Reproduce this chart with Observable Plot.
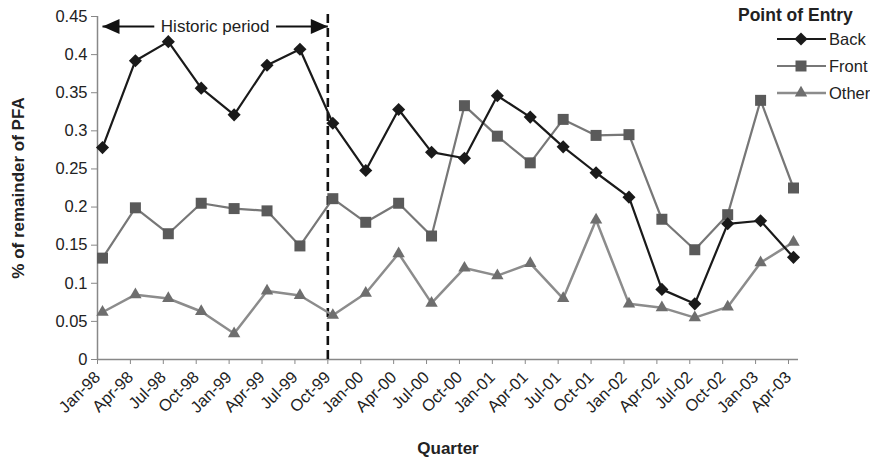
<!DOCTYPE html>
<html><head><meta charset="utf-8">
<script src="https://cdn.jsdelivr.net/npm/d3@7"></script>
<script src="https://cdn.jsdelivr.net/npm/@observablehq/plot@0.6"></script>
<style>
body{margin:0;background:#fff;font-family:"Liberation Sans",Arial,sans-serif;}
#wrap{position:relative;width:870px;height:459px;}
</style></head><body>
<div id="wrap"></div>
<script>
const quarters = ["Jan-98","Apr-98","Jul-98","Oct-98","Jan-99","Apr-99","Jul-99","Oct-99","Jan-00","Apr-00","Jul-00","Oct-00","Jan-01","Apr-01","Jul-01","Oct-01","Jan-02","Apr-02","Jul-02","Oct-02","Jan-03","Apr-03"];
const back  = [0.278,0.392,0.417,0.356,0.321,0.386,0.407,0.310,0.248,0.328,0.272,0.264,0.346,0.318,0.279,0.245,0.213,0.092,0.073,0.178,0.182,0.134];
const front = [0.133,0.199,0.165,0.205,0.198,0.195,0.149,0.211,0.180,0.205,0.162,0.333,0.293,0.258,0.315,0.294,0.295,0.184,0.144,0.190,0.340,0.225];
const other = [0.062,0.085,0.080,0.063,0.034,0.090,0.084,0.058,0.087,0.139,0.074,0.120,0.110,0.126,0.080,0.183,0.073,0.068,0.055,0.069,0.127,0.154];
const yTicks = [0,0.05,0.1,0.15,0.2,0.25,0.3,0.35,0.4,0.45];
const legendTitle = "Point of Entry";
const historicLabel = "Historic period";
const historicEndQuarter = "Oct-99";

const off = 0.152; // points sit slightly right of the category tick marks
const idx = quarters.map((q, i) => i);
const styles = {
  Back:  {values: back,  symbol: "diamond2", d3s: d3.symbolDiamond2, line: "#1a1a1a", fill: "#1a1a1a", r: 5.9, w: 2.2},
  Front: {values: front, symbol: "square",   d3s: d3.symbolSquare,   line: "#777777", fill: "#5a5a5a", r: 6.2, w: 2.2},
  Other: {values: other, symbol: "triangle", d3s: d3.symbolTriangle, line: "#8c8c8c", fill: "#6e6e6e", r: 4.6, w: 2.5}
};
const legendOrder = ["Back","Front","Other"];
const drawOrder = ["Other","Front","Back"];

const histEnd = quarters.indexOf(historicEndQuarter) - off;
const arrowY = 0.437;
const mid = histEnd / 2;
const gap = 1.85;
const shafts = [{x1: 0, x2: mid - gap}, {x1: mid + gap, x2: histEnd}];
const leftHead = {draw(ctx){ctx.moveTo(0,0);ctx.lineTo(17,-7.5);ctx.lineTo(17,7.5);ctx.closePath();}};
const rightHead = {draw(ctx){ctx.moveTo(0,0);ctx.lineTo(-17,-7.5);ctx.lineTo(-17,7.5);ctx.closePath();}};

const chart = Plot.plot({
  width: 870, height: 459,
  marginLeft: 97, marginRight: 72, marginTop: 16, marginBottom: 100,
  style: {fontFamily: '"Liberation Sans", Arial, sans-serif', color: "#222", background: "#fff", overflow: "visible"},
  x: {type: "linear", domain: [-off, quarters.length - 1 + off]},
  y: {domain: [0, 0.45]},
  marks: [
    Plot.axisY({ticks: yTicks, tickFormat: d => String(+d.toFixed(2)), tickSize: 6, tickPadding: 4, fontSize: 16.5, stroke: "#888", fill: "#222", label: null}),
    Plot.axisX({ticks: idx.map(i => i - off), tickFormat: t => quarters[Math.round(t + off)], tickRotate: -45, tickSize: 5, tickPadding: 10, fontSize: 16.5, stroke: "#888", fill: "#222", label: null}),
    Plot.ruleY([0], {stroke: "#888", strokeWidth: 1.5}),
    Plot.ruleX([-off], {y1: 0, y2: 0.45, stroke: "#888", strokeWidth: 1.5}),
    Plot.ruleX([histEnd], {y1: 0, y2: 0.457, stroke: "#111", strokeWidth: 2.6, strokeDasharray: "9,5"}),
    Plot.link(shafts, {x1: "x1", x2: "x2", y1: arrowY, y2: arrowY, stroke: "#111", strokeWidth: 2}),
    Plot.dot([0], {x: d => d, y: arrowY, symbol: leftHead, fill: "#111"}),
    Plot.dot([histEnd], {x: d => d, y: arrowY, symbol: rightHead, fill: "#111"}),
    Plot.text([historicLabel], {x: mid, y: arrowY, fontSize: 17, fill: "#222"}),
    ...drawOrder.flatMap(name => {
      const s = styles[name];
      return [
        Plot.line(s.values, {x: (d, i) => i, y: d => d, stroke: s.line, strokeWidth: s.w}),
        Plot.dot(s.values, {x: (d, i) => i, y: d => d, symbol: s.symbol, fill: s.fill, r: s.r})
      ];
    }),
    Plot.text(["% of remainder of PFA"], {frameAnchor: "left", rotate: -90, dx: -79, textAnchor: "middle", lineAnchor: "middle", fontWeight: "bold", fontSize: 17, fill: "#222"}),
    Plot.text(["Quarter"], {frameAnchor: "bottom", dy: 89, textAnchor: "middle", lineAnchor: "middle", fontWeight: "bold", fontSize: 17, fill: "#222"})
  ]
});
const wrap = document.getElementById("wrap");
wrap.appendChild(chart);

// legend overlay
const lg = d3.create("svg").attr("width", 870).attr("height", 110)
  .style("position", "absolute").style("left", "0px").style("top", "0px")
  .style("font-family", '"Liberation Sans", Arial, sans-serif');
lg.append("text").attr("x", 738).attr("y", 15).attr("dy", "0.35em")
  .attr("font-weight", "bold").attr("font-size", 17.5).attr("fill", "#222").text(legendTitle);
legendOrder.forEach((name, k) => {
  const s = styles[name];
  const y = 39 + k * 27;
  lg.append("line").attr("x1", 777).attr("x2", 826).attr("y1", y).attr("y2", y)
    .attr("stroke", s.line).attr("stroke-width", s.w);
  lg.append("path").attr("transform", `translate(801,${y})`)
    .attr("d", d3.symbol(s.d3s, s.r * s.r * Math.PI)()).attr("fill", s.fill);
  lg.append("text").attr("x", 829).attr("y", y).attr("dy", "0.35em")
    .attr("font-size", 16.5).attr("fill", "#222").text(name);
});
wrap.appendChild(lg.node());
</script>
</body></html>
